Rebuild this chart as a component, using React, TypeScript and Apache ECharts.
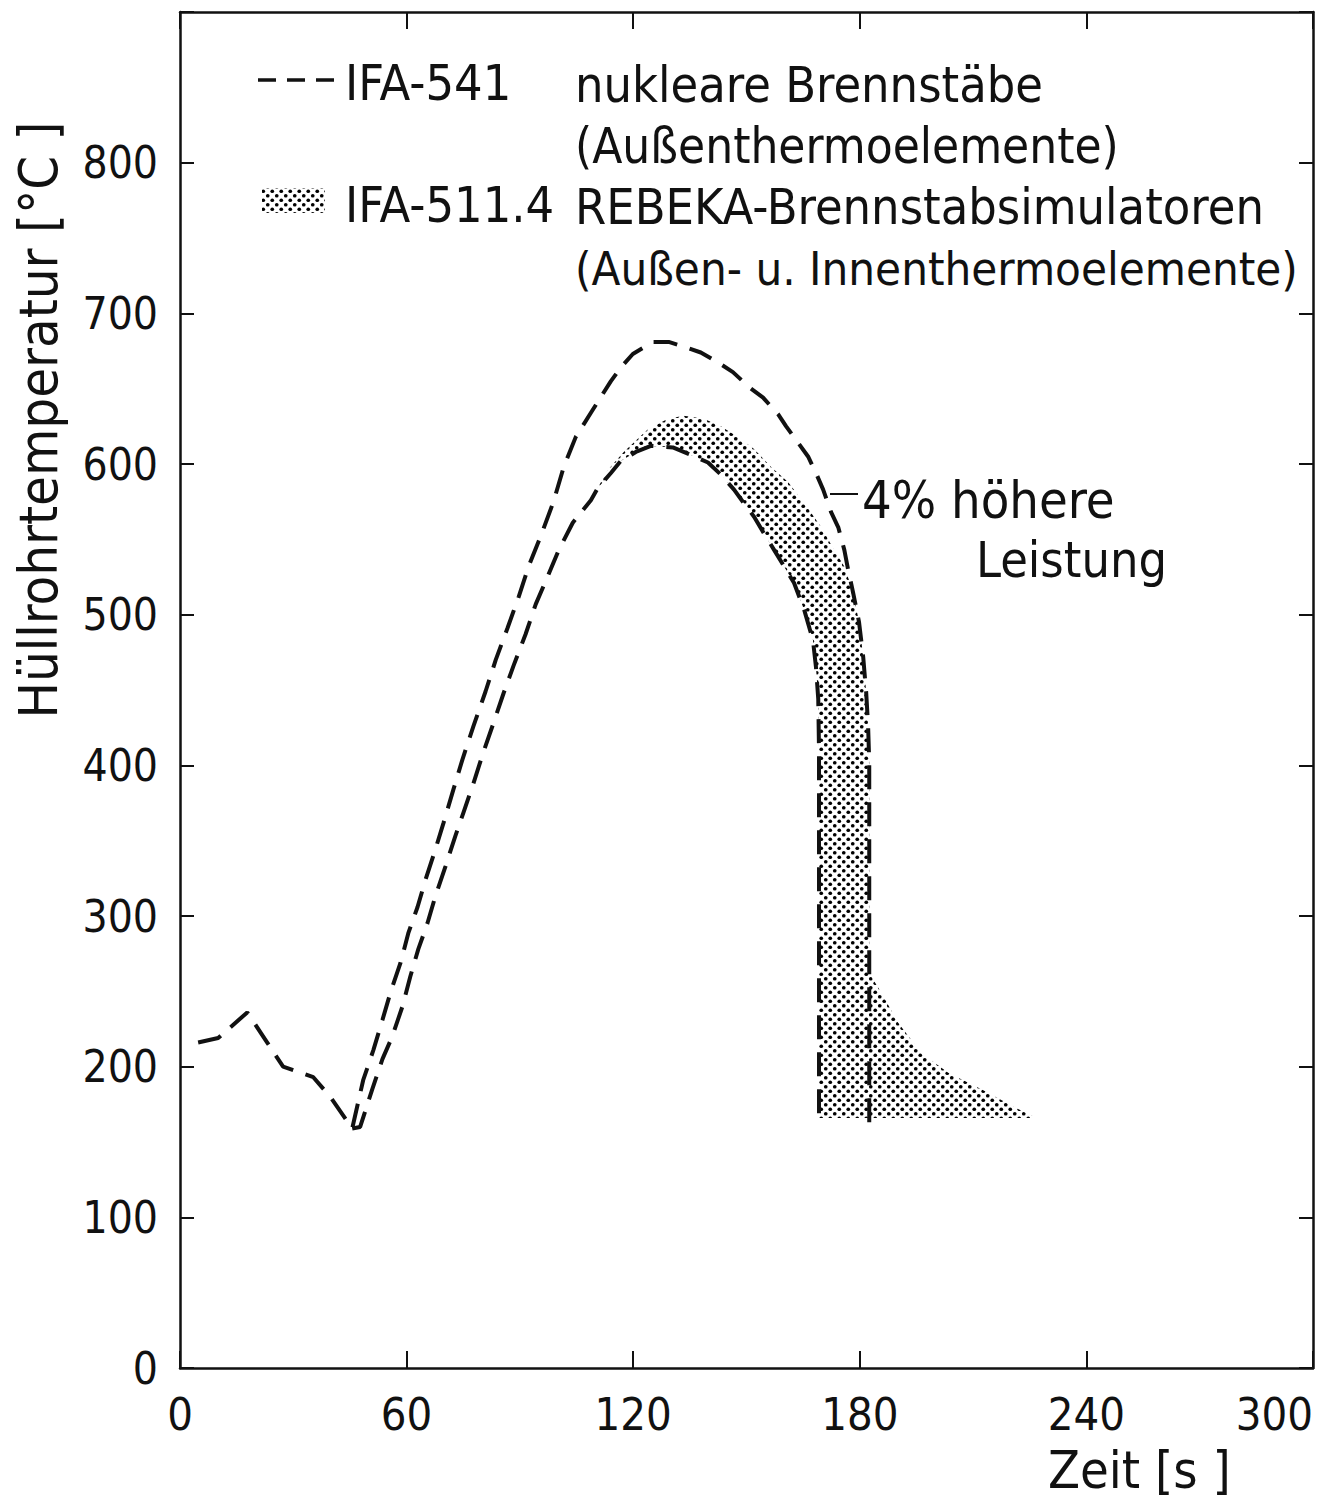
import React, { useEffect, useRef } from "react";
import * as echarts from "echarts";

// ---- data ----
const xMin = 0;
const xMax = 300;
const xStep = 60;
const yMin = 0;
const yMax = 900;
const yStep = 100;

// common start of the IFA-541 curves (before they split)
const commonStart: number[][] = [
  [4.8, 216], [10.1, 219], [17.8, 236], [23.1, 216], [27.3, 200],
  [35.3, 193], [39.8, 180], [45.6, 159],
];

// IFA-541, 4 % higher power (outer dashed curve)
const upperCurve: number[][] = [
  [45.6, 159], [48.5, 191], [51.2, 211], [53.6, 231], [55.7, 249], [58.4, 269],
  [60.5, 289], [62.9, 306], [65.0, 324], [67.6, 344], [69.8, 362], [72.4, 384],
  [74.8, 404], [77.7, 426], [80.9, 449], [83.6, 470], [86.7, 491], [89.7, 512],
  [92.3, 532], [95.5, 552], [98.9, 575], [101.6, 598], [104.8, 618], [108.8, 634],
  [114.1, 655], [116.7, 664], [119.9, 673], [125.2, 681], [129.4, 681], [134.5, 677],
  [137.9, 674], [142.7, 667], [146.4, 661], [150.7, 651], [154.4, 644], [158.4, 633],
  [160.5, 625], [163.7, 614], [166.3, 605], [168.4, 594], [170.3, 583], [172.4, 568],
  [174.3, 558], [175.9, 543], [176.9, 530], [178.2, 515], [179.8, 495], [180.9, 472],
  [181.7, 448], [182.2, 426], [182.5, 402], [182.5, 163],
];

// IFA-541, inner dashed curve
const lowerCurve: number[][] = [
  [45.6, 159], [47.7, 160], [50.9, 185], [53.6, 205], [56.2, 220], [58.9, 240],
  [61.0, 260], [63.1, 278], [65.5, 295], [67.6, 313], [70.3, 333], [72.9, 353],
  [75.1, 369], [77.7, 388], [80.1, 407], [83.0, 428], [85.7, 448], [88.3, 466],
  [91.5, 487], [94.2, 507], [97.3, 525], [100.3, 543], [104.0, 561], [108.8, 576],
  [110.6, 584], [114.1, 594], [116.7, 602], [120.7, 608], [124.7, 612], [130.5, 611],
  [135.3, 606], [139.8, 601], [143.2, 593], [146.7, 583], [149.3, 574], [152.0, 565],
  [154.6, 554], [157.3, 543], [162.6, 521], [165.3, 503], [167.6, 483], [168.4, 465],
  [169.0, 444], [169.2, 410], [169.2, 163],
];

// IFA-511.4 band (REBEKA simulators): upper / right edge
const bandUpperEdge: number[][] = [
  [110.6, 584], [113.3, 596], [117.5, 608], [123.9, 623], [129.2, 630], [133.4, 632],
  [138.7, 630], [143.2, 625], [147.7, 618], [152.0, 610], [156.5, 598], [161.0, 588],
  [165.3, 574], [169.8, 558], [173.2, 543], [175.9, 532], [178.2, 515], [179.8, 495],
  [180.9, 472], [181.7, 448], [182.2, 426], [182.5, 402], [182.5, 271], [183.0, 260],
  [185.7, 249], [190.2, 229], [196.3, 209], [203.4, 196], [212.2, 185], [221.0, 173],
  [226.0, 167],
];

// IFA-511.4 band: lower / left edge
const bandLowerEdge: number[][] = [
  [110.6, 584], [114.1, 594], [116.7, 602], [120.7, 608], [124.7, 612], [130.5, 611],
  [135.3, 606], [139.8, 601], [143.2, 593], [146.7, 583], [149.3, 574], [152.0, 565],
  [154.6, 554], [157.3, 543], [162.6, 521], [165.3, 503], [167.6, 483], [168.4, 465],
  [169.0, 444], [169.2, 410], [169.2, 166], [226.0, 166],
];

const legendLine1 = ["IFA-541", "nukleare Brennstäbe", "(Außenthermoelemente)"];
const legendLine2 = ["IFA-511.4", "REBEKA-Brennstabsimulatoren", "(Außen- u. Innenthermoelemente)"];
const annotation = ["4% höhere", "Leistung"];
const yAxisTitle = "Hüllrohrtemperatur [°C ]";
const xAxisTitle = "Zeit [s ]";

const FONT = "'DejaVu Sans Condensed', 'Liberation Sans Narrow', 'DejaVu Sans', sans-serif";
const INK = "#111";

function makeDotPattern(): HTMLCanvasElement {
  const c = document.createElement("canvas");
  c.width = 9;
  c.height = 9;
  const ctx = c.getContext("2d")!;
  ctx.fillStyle = "#fff";
  ctx.fillRect(0, 0, 9, 9);
  ctx.fillStyle = "#000";
  [[2.25, 2.25], [6.75, 6.75]].forEach(([x, y]) => {
    ctx.beginPath();
    ctx.arc(x, y, 1.85, 0, Math.PI * 2);
    ctx.fill();
  });
  return c;
}

export default function App() {
  const ref = useRef<HTMLDivElement>(null);

  useEffect(() => {
    if (!ref.current) return;
    const chart = echarts.init(ref.current, null, { renderer: "svg" });
    const pattern = { image: makeDotPattern(), repeat: "repeat" } as any;
    const bandPolygon = [...bandUpperEdge, ...bandLowerEdge.slice().reverse()];

    const dashed = { color: INK, width: 4, type: [24, 13] as number[] };
    const axisLineStyle = { color: INK, width: 2.5 };
    const tickStyle = { color: INK, width: 2 };
    const labelStyle = { fontSize: 45, color: INK, fontFamily: FONT };
    const textStyle = (text: string, size = 48) => ({
      text, fontSize: size, fontFamily: FONT, fill: INK, verticalAlign: "middle",
    });

    const option: any = {
      animation: false,
      backgroundColor: "#fff",
      grid: { left: 180, right: 10, top: 12, bottom: 131, containLabel: false },
      xAxis: [
        {
          type: "value", min: xMin, max: xMax, interval: xStep, position: "bottom",
          axisLine: { show: true, onZero: false, lineStyle: axisLineStyle },
          axisTick: { show: true, inside: true, length: 17, lineStyle: tickStyle },
          axisLabel: { ...labelStyle, margin: 24, alignMaxLabel: "right" },
          splitLine: { show: false },
        },
        {
          type: "value", min: xMin, max: xMax, interval: xStep, position: "top",
          axisLine: { show: true, onZero: false, lineStyle: axisLineStyle },
          axisTick: { show: true, inside: true, length: 17, lineStyle: tickStyle },
          axisLabel: { show: false },
          splitLine: { show: false },
        },
      ],
      yAxis: [
        {
          type: "value", min: yMin, max: yMax, interval: yStep, position: "left",
          axisLine: { show: true, onZero: false, lineStyle: axisLineStyle },
          axisTick: { show: true, inside: true, length: 14, lineStyle: tickStyle },
          axisLabel: {
            ...labelStyle, fontSize: 44, margin: 22,
            formatter: (v: number) => (v >= yMax ? "" : String(v)),
          },
          splitLine: { show: false },
        },
        {
          type: "value", min: yMin, max: yMax, interval: yStep, position: "right",
          axisLine: { show: true, onZero: false, lineStyle: axisLineStyle },
          axisTick: { show: true, inside: true, length: 14, lineStyle: tickStyle },
          axisLabel: { show: false },
          splitLine: { show: false },
        },
      ],
      series: [
        {
          type: "custom",
          name: "IFA-511.4",
          coordinateSystem: "cartesian2d",
          xAxisIndex: 0, yAxisIndex: 0,
          data: [[bandPolygon[0][0], bandPolygon[0][1]]],
          silent: true,
          z: 1,
          renderItem: (_p: any, api: any) => ({
            type: "polygon",
            shape: { points: bandPolygon.map((p) => api.coord(p)) },
            style: { fill: pattern, stroke: null },
          }),
        },
        {
          type: "line", name: "IFA-541", data: [...commonStart, ...upperCurve.slice(1)],
          symbol: "none", showSymbol: false, lineStyle: dashed, z: 3, silent: true,
        },
        {
          type: "line", name: "IFA-541 innen", data: lowerCurve,
          symbol: "none", showSymbol: false, lineStyle: dashed, z: 3, silent: true,
        },
      ],
      graphic: [
        // legend
        { type: "line", shape: { x1: 258, y1: 80, x2: 334, y2: 80 }, style: { stroke: INK, lineWidth: 3.5, lineDash: [18, 11] }, z: 10 },
        { type: "text", x: 345, y: 83, style: textStyle(legendLine1[0], 50), z: 10 },
        { type: "text", x: 575, y: 85, style: textStyle(legendLine1[1], 50), z: 10 },
        { type: "text", x: 575, y: 146, style: textStyle(legendLine1[2], 49), z: 10 },
        { type: "rect", shape: { x: 262, y: 188, width: 63, height: 25 }, style: { fill: pattern, stroke: null }, z: 10 },
        { type: "text", x: 345, y: 205, style: textStyle(legendLine2[0], 50), z: 10 },
        { type: "text", x: 575, y: 207, style: textStyle(legendLine2[1], 50), z: 10 },
        { type: "text", x: 575, y: 268, style: textStyle(legendLine2[2], 47), z: 10 },
        // annotation
        { type: "line", shape: { x1: 830, y1: 494, x2: 858, y2: 494 }, style: { stroke: INK, lineWidth: 2 }, z: 10 },
        { type: "text", x: 862, y: 500, style: textStyle(annotation[0], 52), z: 10 },
        { type: "text", x: 976, y: 560, style: textStyle(annotation[1], 50), z: 10 },
        // axis titles
        { type: "text", x: 38, y: 420, rotation: Math.PI / 2, style: { ...textStyle(yAxisTitle, 54), align: "center" }, z: 10 },
        { type: "text", x: 1048, y: 1470, style: textStyle(xAxisTitle, 52), z: 10 },
      ],
    };

    chart.setOption(option);
    return () => chart.dispose();
  }, []);

  return (
    <div
      ref={ref}
      style={{ position: "absolute", left: 0, top: 0, width: 1323, height: 1499, background: "#fff" }}
    />
  );
}
